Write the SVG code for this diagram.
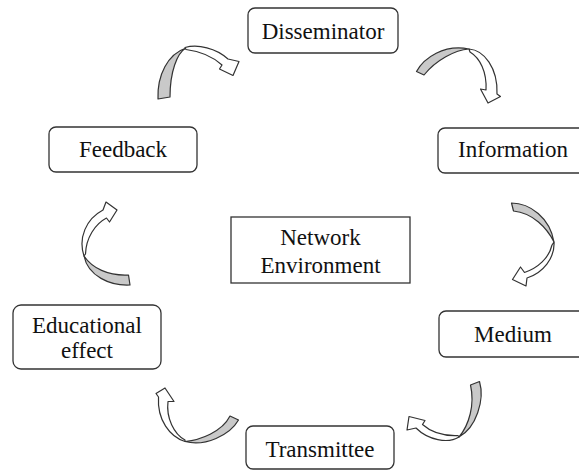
<svg xmlns="http://www.w3.org/2000/svg" width="579" height="470" viewBox="0 0 579 470">
  <style>
    .box { fill: #ffffff; stroke: #333333; stroke-width: 1.3; }
    .label { font-family: "Liberation Serif", "Times New Roman", serif; font-size: 23px; fill: #111111; text-anchor: middle; }
    .back { fill: #c9c9c9; stroke: #333333; stroke-width: 1.2; stroke-linejoin: round; }
    .front { fill: #ffffff; stroke: #333333; stroke-width: 1.2; stroke-linejoin: round; }
  </style>
  <rect width="579" height="470" fill="#ffffff"/>

  <!-- twisted curved arrows running round the cycle -->
  <g id="connectors">
    <g id="feedback-to-disseminator">
      <path class="back" d="M158,99 C157,75 168,54 186,48 C177,53 170,72 170,97 Z"/>
      <path class="front" d="M185,47.5 C198,44 216,48 228,59 L239,61.5 L233,75.5 L219.5,69 L222,65 C212,56 198,51 186,49.5 Z"/>
    </g>
    <g id="disseminator-to-information">
      <path class="back" d="M416.5,71.5 C424,58 444,44 469,49 C455,50 436,60 424,75 Z"/>
      <path class="front" d="M469,49 C484,50 498,68 497,94 L500.5,96.5 L488,103 L480.5,89 L486,90 C487,72 480,58 470,52 Z"/>
    </g>
    <g id="information-to-medium">
      <path class="back" d="M511.5,203 C530,203 550,218 554,242 C547,228 533,213 513.5,211 Z"/>
      <path class="front" d="M554,242 C555,258 543,273 527,278 L526,286 L512.5,279.5 L520.5,267 L524.5,272.5 C538,268 549,258 552,245 Z"/>
    </g>
    <g id="medium-to-transmittee">
      <path class="back" d="M479.5,381.5 C485,400 476,428 459,437 C469,425 475,405 470.5,385 Z"/>
      <path class="front" d="M459,437 C448,444 428,440 416,428 L407,430 L409,416.5 L425,420.5 L422.5,424.5 C432,433 446,436 458,435.5 Z"/>
    </g>
    <g id="transmittee-to-effect">
      <path class="back" d="M238.5,420 C230,435 205,447 185,441.5 C200,440 222,432 230,416 Z"/>
      <path class="front" d="M185,441.5 C170,437 157,420 158.5,397 L156,393.5 L165,388 L174,401.5 L168,401.5 C166,418 174,434 185,440 Z"/>
    </g>
    <g id="effect-to-feedback">
      <path class="back" d="M130,285 C110,286 88,276 84,256 C92,268 108,276 128.5,275 Z"/>
      <path class="front" d="M84,256 C78,238 86,219 103,210 L106,202 L117,210 L109.5,222 L106.5,218 C95,224 86,238 85.5,254 Z"/>
    </g>
  </g>

  <g id="disseminator">
    <rect class="box" x="248" y="8" width="150" height="45" rx="7"/>
    <text class="label" x="323" y="39">Disseminator</text>
  </g>
  <g id="information">
    <rect class="box" x="438" y="128" width="150" height="45" rx="7"/>
    <text class="label" x="513" y="157">Information</text>
  </g>
  <g id="medium">
    <rect class="box" x="439" y="311" width="150" height="46" rx="7"/>
    <text class="label" x="513" y="342">Medium</text>
  </g>
  <g id="transmittee">
    <rect class="box" x="246" y="426" width="148" height="43" rx="7"/>
    <text class="label" x="320" y="457">Transmittee</text>
  </g>
  <g id="educational-effect">
    <rect class="box" x="13" y="305" width="148" height="64" rx="8"/>
    <text class="label" x="87" y="333">Educational</text>
    <text class="label" x="87" y="358">effect</text>
  </g>
  <g id="feedback">
    <rect class="box" x="49" y="127" width="148" height="45" rx="7"/>
    <text class="label" x="123" y="157">Feedback</text>
  </g>
  <g id="network-environment">
    <rect class="box" x="231" y="217" width="179" height="66"/>
    <text class="label" x="320.5" y="245">Network</text>
    <text class="label" x="320.5" y="273">Environment</text>
  </g>
</svg>
